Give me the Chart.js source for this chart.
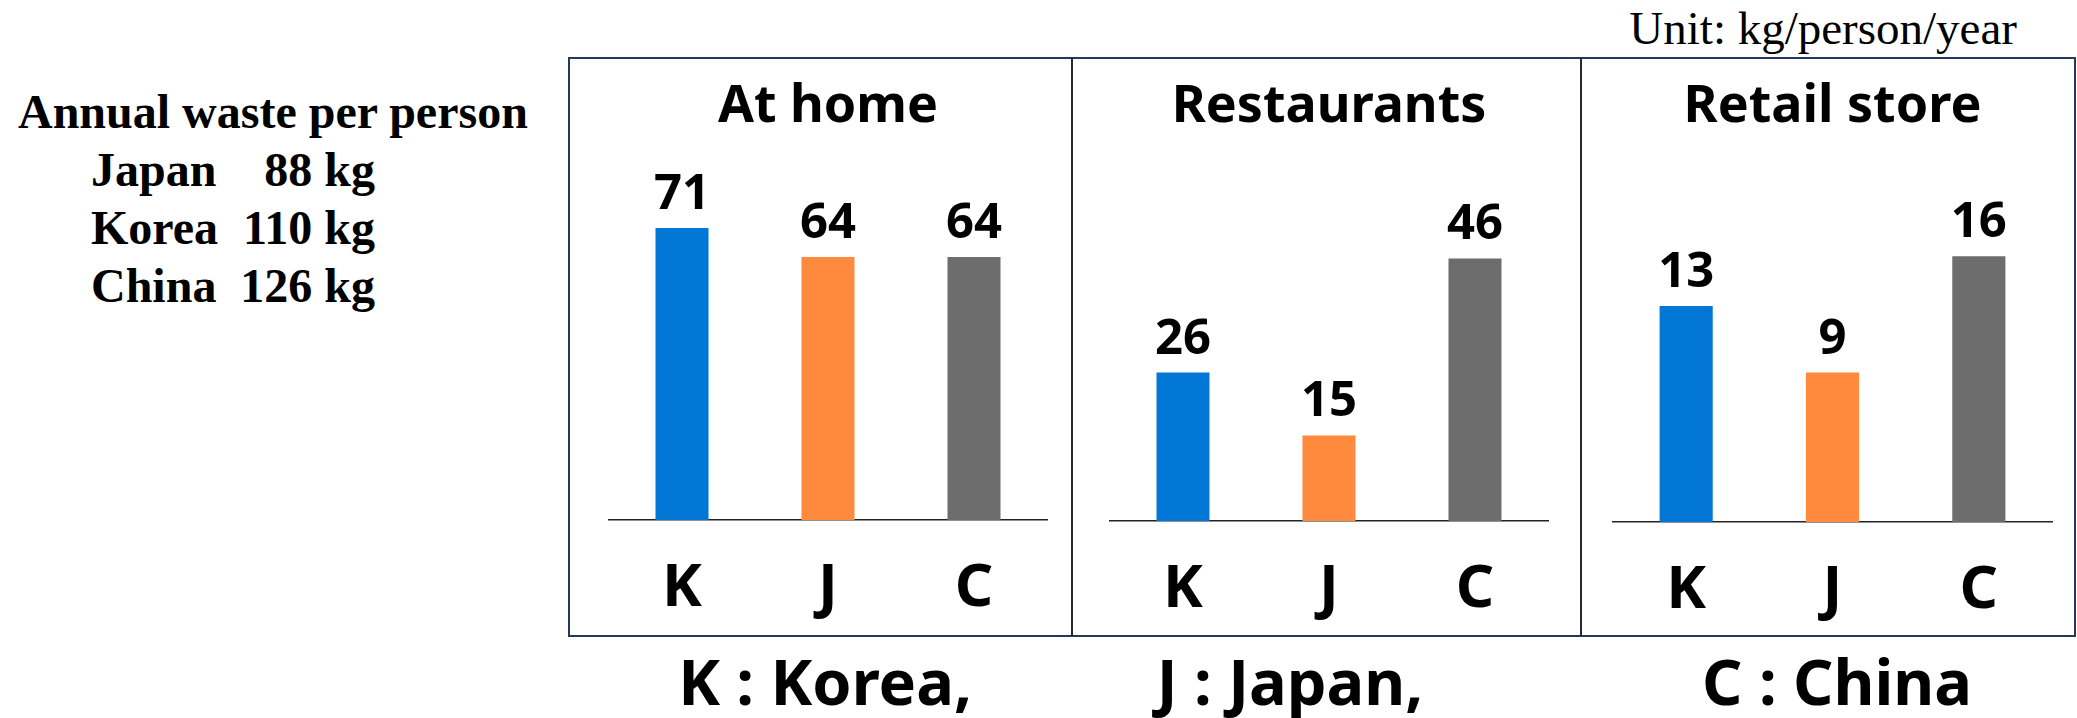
<!DOCTYPE html>
<html>
<head>
<meta charset="utf-8">
<script src="https://cdn.jsdelivr.net/npm/chart.js@4.4.0/dist/chart.umd.min.js"></script>
<style>
  html, body { margin: 0; padding: 0; background: #fff; }
  #page { position: relative; width: 2077px; height: 718px; overflow: hidden; }
  #summary { position: absolute; left: 0; top: 83px; font: bold 48px/58px "Liberation Serif", serif; color: #000; }
  #summary .head { position: absolute; left: 18px; top: 0; white-space: nowrap; }
  #summary .row { position: absolute; left: 91px; width: 284px; white-space: nowrap; }
  #summary .row span { position: absolute; right: 0; }
  #unit { position: absolute; right: 60px; top: 5px; font: 47px/47px "Liberation Serif", serif; color: #000; white-space: nowrap; }
  #frame { position: absolute; left: 568px; top: 57px; width: 1508px; height: 580px; box-sizing: border-box; border: 2.5px solid #263859; }
  .divider { position: absolute; top: 58px; width: 1.5px; height: 578px; background: #2a2a2a; }
  .box { position: absolute; top: 60px; height: 576px; }
  .key { position: absolute; top: 649px; font: bold 63px/63px "Noto Sans", sans-serif; color: #000; white-space: nowrap; transform: translateX(-50%); }
</style>
</head>
<body>
<div id="page">
  <div id="summary"></div>
  <div id="unit">Unit: kg/person/year</div>
  <div id="frame"></div>
  <div class="divider" style="left:1071px"></div>
  <div class="divider" style="left:1580px"></div>
  <div class="box" id="box0"><canvas id="chart0"></canvas></div>
  <div class="box" id="box1"><canvas id="chart1"></canvas></div>
  <div class="box" id="box2"><canvas id="chart2"></canvas></div>
</div>
<script>
// data
const categories = ['K', 'J', 'C'];
const panelTitles = ['At home', 'Restaurants', 'Retail store'];
const atHome = [71, 64, 64];
const restaurants = [26, 15, 46];
const retailStore = [13, 9, 16];
const axisMax = [90, 65, 22.4];

const summaryCountries = ['Japan', 'Korea', 'China'];
const annualWaste = [88, 110, 126];

const keyLetters = ['K', 'J', 'C'];
const keyNames = ['Korea,', 'Japan,', 'China'];

const barColors = ['#0277d6', '#ff8a3d', '#6d6d6d'];

// page layout
const boxes = [
  { left: 570, width: 501, padLeft: 39, padRight: 24, axisH: 116 },
  { left: 1073, width: 507, padLeft: 37, padRight: 32, axisH: 115 },
  { left: 1582, width: 492, padLeft: 31, padRight: 22, axisH: 114 }
];
const keyCenters = [825, 1290, 1837];

// left summary text
const summary = document.getElementById('summary');
summary.innerHTML = '<div class="head">Annual waste per person</div>';
summaryCountries.forEach((c, i) => {
  const row = document.createElement('div');
  row.className = 'row';
  row.style.top = ((i + 1) * 58) + 'px';
  row.innerHTML = c + '<span>' + annualWaste[i] + ' kg</span>';
  summary.appendChild(row);
});

// bottom key
keyLetters.forEach((k, i) => {
  const d = document.createElement('div');
  d.className = 'key';
  d.style.left = keyCenters[i] + 'px';
  d.textContent = k + ' : ' + keyNames[i];
  document.getElementById('page').appendChild(d);
});

Chart.defaults.font.family = '"Noto Sans", sans-serif';
Chart.defaults.color = '#000';

const valueLabels = {
  id: 'valueLabels',
  afterDatasetsDraw(chart) {
    const ctx = chart.ctx;
    const meta = chart.getDatasetMeta(0);
    const values = chart.data.datasets[0].data;
    ctx.save();
    ctx.font = 'bold 49px "Noto Sans"';
    ctx.fillStyle = '#000';
    ctx.textAlign = 'center';
    ctx.textBaseline = 'alphabetic';
    meta.data.forEach((bar, i) => {
      ctx.fillText(values[i], bar.x, bar.y - 19);
    });
    ctx.restore();
  }
};

const series = [atHome, restaurants, retailStore];

series.forEach((values, p) => {
  const b = boxes[p];
  const box = document.getElementById('box' + p);
  box.style.left = b.left + 'px';
  box.style.width = b.width + 'px';

  new Chart(document.getElementById('chart' + p), {
    type: 'bar',
    data: {
      labels: categories,
      datasets: [{
        label: panelTitles[p],
        data: values,
        backgroundColor: barColors,
        barPercentage: 0.363,
        categoryPercentage: 1
      }]
    },
    options: {
      responsive: true,
      maintainAspectRatio: false,
      animation: false,
      layout: { padding: { left: b.padLeft, right: b.padRight, top: 0, bottom: 0 } },
      plugins: {
        legend: { display: false },
        tooltip: { enabled: false },
        title: {
          display: true,
          text: panelTitles[p],
          color: '#000',
          font: { size: 52, weight: 'bold', lineHeight: 1 },
          padding: { top: 21, bottom: 17 }
        }
      },
      scales: {
        x: {
          grid: { display: false },
          border: { display: true, color: '#222', width: 1.5 },
          ticks: { color: '#000', font: { size: 60, weight: 'bold', lineHeight: 1 }, padding: 31 },
          afterFit: s => { s.height = b.axisH; }
        },
        y: {
          display: false,
          min: 0,
          max: axisMax[p]
        }
      }
    },
    plugins: [valueLabels]
  });
});
</script>
</body>
</html>
